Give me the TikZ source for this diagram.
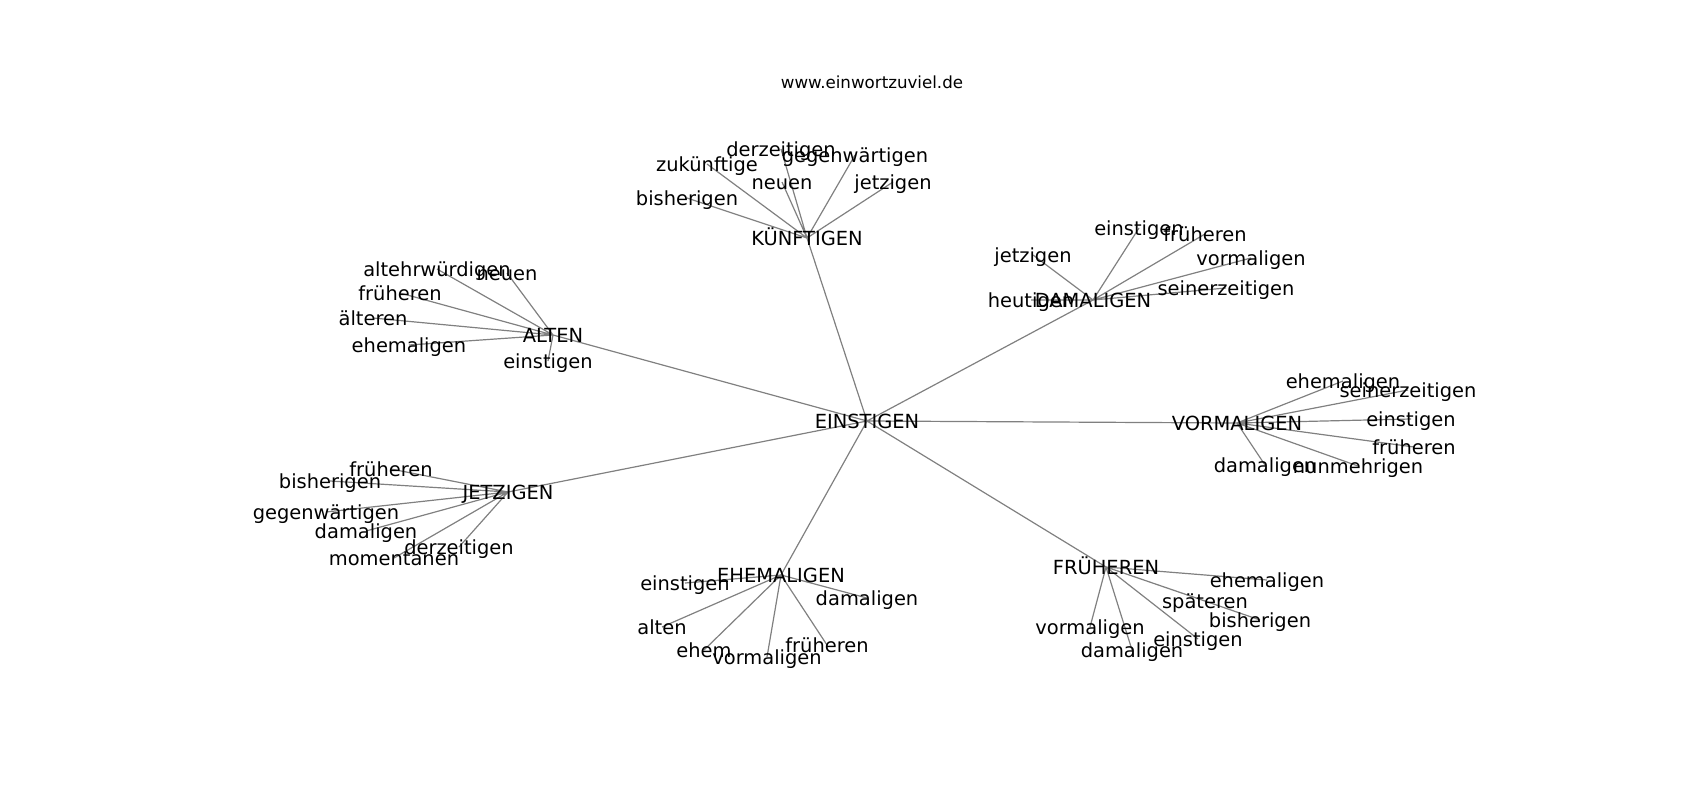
\documentclass[tikz,border=0pt]{standalone}
\usepackage{fontspec}
\setmainfont{DejaVu Sans}
\usetikzlibrary{backgrounds}

\begin{document}
\begin{tikzpicture}[x=1pt, y=-1pt,
  word/.style={font=\fontsize{19.44}{23}\selectfont, inner sep=0pt, text height=18.8pt, text depth=4.6pt},
  link/.style={draw=gray, line width=1.2pt}]
  \useasboundingbox (0,0) rectangle (1700,800);

  % Title
  \node[font=\fontsize{16.67}{20}\selectfont, inner sep=0pt, text height=14.7pt, text depth=3.9pt] (title) at (872,83) {www.einwortzuviel.de};

  % Center and hubs
  \node[word] (einst) at (867,421) {EINSTIGEN};
  \node[word] (kuenf) at (807,238) {KÜNFTIGEN};
  \node[word] (damal) at (1093,300) {DAMALIGEN};
  \node[word] (alten) at (553,335) {ALTEN};
  \node[word] (vorma) at (1237,423) {VORMALIGEN};
  \node[word] (jetzi) at (508,492) {JETZIGEN};
  \node[word] (ehema) at (781,575) {EHEMALIGEN};
  \node[word] (frueh) at (1106,567) {FRÜHEREN};

  % KUENFTIGEN leaves
  \node[word] (k-derz) at (781,149) {derzeitigen};
  \node[word] (k-gegen) at (855,155) {gegenwärtigen};
  \node[word] (k-zuk) at (707,164) {zukünftige};
  \node[word] (k-neu) at (782,182) {neuen};
  \node[word] (k-jetz) at (893,182) {jetzigen};
  \node[word] (k-bish) at (687,198) {bisherigen};

  % DAMALIGEN leaves
  \node[word] (d-heut) at (1031,300) {heutigen};
  \node[word] (d-jetz) at (1033,255) {jetzigen};
  \node[word] (d-einst) at (1139,228) {einstigen};
  \node[word] (d-frueh) at (1205,234) {früheren};
  \node[word] (d-vorm) at (1251,258) {vormaligen};
  \node[word] (d-seit) at (1226,288) {seinerzeitigen};

  % ALTEN leaves
  \node[word] (a-altehr) at (437,269) {altehrwürdigen};
  \node[word] (a-neu) at (507,273) {neuen};
  \node[word] (a-frueh) at (400,293) {früheren};
  \node[word] (a-aelt) at (373,318) {älteren};
  \node[word] (a-ehem) at (409,345) {ehemaligen};
  \node[word] (a-einst) at (548,361) {einstigen};

  % VORMALIGEN leaves
  \node[word] (v-ehem) at (1343,381) {ehemaligen};
  \node[word] (v-seit) at (1408,390) {seinerzeitigen};
  \node[word] (v-einst) at (1411,419) {einstigen};
  \node[word] (v-frueh) at (1414,447) {früheren};
  \node[word] (v-dam) at (1265,465) {damaligen};
  \node[word] (v-nunm) at (1358,466) {nunmehrigen};

  % JETZIGEN leaves
  \node[word] (j-frueh) at (391,469) {früheren};
  \node[word] (j-bish) at (330,481) {bisherigen};
  \node[word] (j-gegen) at (326,512) {gegenwärtigen};
  \node[word] (j-dam) at (366,531) {damaligen};
  \node[word] (j-derz) at (459,547) {derzeitigen};
  \node[word] (j-mom) at (394,558) {momentanen};

  % EHEMALIGEN leaves
  \node[word] (e-einst) at (685,583) {einstigen};
  \node[word] (e-dam) at (867,598) {damaligen};
  \node[word] (e-alten) at (662,627) {alten};
  \node[word] (e-ehem) at (704,650) {ehem};
  \node[word] (e-vorm) at (767,657) {vormaligen};
  \node[word] (e-frueh) at (827,645) {früheren};

  % FRUEHEREN leaves
  \node[word] (f-ehem) at (1267,580) {ehemaligen};
  \node[word] (f-spaet) at (1205,601) {späteren};
  \node[word] (f-bish) at (1260,620) {bisherigen};
  \node[word] (f-vorm) at (1090,627) {vormaligen};
  \node[word] (f-einst) at (1198,639) {einstigen};
  \node[word] (f-dam) at (1132,650) {damaligen};

  % Edges, under the words
  \begin{scope}[on background layer]
    \draw[link] (einst.center) -- (kuenf.center) (einst.center) -- (damal.center)
      (einst.center) -- (alten.center) (einst.center) -- (vorma.center)
      (einst.center) -- (jetzi.center) (einst.center) -- (ehema.center)
      (einst.center) -- (frueh.center);
    \draw[link] (kuenf.center) -- (k-derz.center) (kuenf.center) -- (k-gegen.center)
      (kuenf.center) -- (k-zuk.center) (kuenf.center) -- (k-neu.center)
      (kuenf.center) -- (k-jetz.center) (kuenf.center) -- (k-bish.center);
    \draw[link] (damal.center) -- (d-heut.center) (damal.center) -- (d-jetz.center)
      (damal.center) -- (d-einst.center) (damal.center) -- (d-frueh.center)
      (damal.center) -- (d-vorm.center) (damal.center) -- (d-seit.center);
    \draw[link] (alten.center) -- (a-altehr.center) (alten.center) -- (a-neu.center)
      (alten.center) -- (a-frueh.center) (alten.center) -- (a-aelt.center)
      (alten.center) -- (a-ehem.center) (alten.center) -- (a-einst.center);
    \draw[link] (vorma.center) -- (v-ehem.center) (vorma.center) -- (v-seit.center)
      (vorma.center) -- (v-einst.center) (vorma.center) -- (v-frueh.center)
      (vorma.center) -- (v-dam.center) (vorma.center) -- (v-nunm.center);
    \draw[link] (jetzi.center) -- (j-frueh.center) (jetzi.center) -- (j-bish.center)
      (jetzi.center) -- (j-gegen.center) (jetzi.center) -- (j-dam.center)
      (jetzi.center) -- (j-derz.center) (jetzi.center) -- (j-mom.center);
    \draw[link] (ehema.center) -- (e-einst.center) (ehema.center) -- (e-dam.center)
      (ehema.center) -- (e-alten.center) (ehema.center) -- (e-ehem.center)
      (ehema.center) -- (e-vorm.center) (ehema.center) -- (e-frueh.center);
    \draw[link] (frueh.center) -- (f-ehem.center) (frueh.center) -- (f-spaet.center)
      (frueh.center) -- (f-bish.center) (frueh.center) -- (f-vorm.center)
      (frueh.center) -- (f-einst.center) (frueh.center) -- (f-dam.center);
  \end{scope}
\end{tikzpicture}
\end{document}
